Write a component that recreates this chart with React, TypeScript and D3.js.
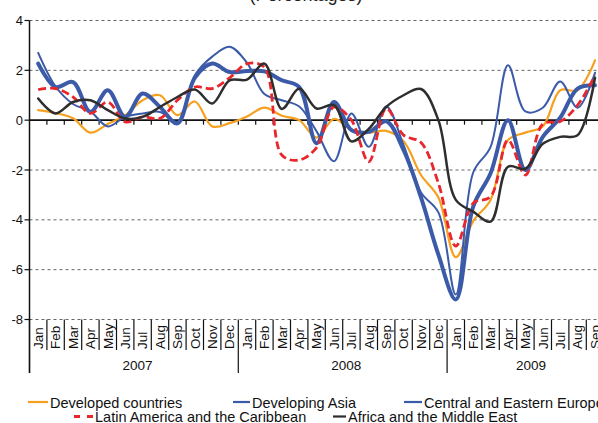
import * as d3 from 'd3'

const WIDTH = 598
const HEIGHT = 423
const LEFT = 29.5
const MONTH_W = 17.4
const TOP_Y = 20.5
const BOTTOM_Y = 319.5

const monthNames = ['Jan', 'Feb', 'Mar', 'Apr', 'May', 'Jun', 'Jul', 'Aug', 'Sep', 'Oct', 'Nov', 'Dec']
const years = ['2007', '2008', '2009']
const monthsPerYear = [12, 12, 9]
const yTicks = [4, 2, 0, -2, -4, -6, -8]

// one value per month, Jan 2007 .. Sep 2009
const developed = [
  0.4, 0.28, 0.08, -0.5, -0.15, 0.2, 0.8, 1.0, 0.2, 0.75, -0.25, -0.12,
  0.15, 0.5, 0.18, 0.0, -0.7, 0.05, -0.38, -0.5, -0.43, -0.85, -2.2, -3.1,
  -5.5, -4.05, -3.2, -0.8, -0.5, -0.25, 1.2, 1.2, 2.4,
]
const developingAsia = [
  2.27, 1.33, 1.53, 0.33, 1.2, 0.13, 1.07, 0.53, -0.13, 1.7, 2.27, 1.93,
  1.97, 1.96, 1.6, 1.33, -0.93, 0.73, -0.4, -0.47, -0.05, -1.2, -3.1, -5.4,
  -7.2, -3.47, -2.13, 0.0, -2.0, -0.67, 0.1, 1.27, 1.4,
]
const centralEurope = [
  2.7, 1.35, 0.65, 0.35, -0.25, 0.13, 0.27, 0.33, -0.07, 1.8, 2.55, 2.95,
  2.3, 1.05, 0.8, 0.55, -0.45, -1.65, 0.27, -1.07, 0.55, -1.0, -2.9, -3.7,
  -7.0, -2.1, -1.07, 2.2, 0.35, 0.5, 1.55, 0.5, 1.9,
]
const latinAmerica = [
  1.23, 1.27, 0.93, 0.27, 0.73, -0.07, 0.13, 0.07, 0.8, 1.33, 1.27, 1.7,
  2.27, 2.13, -1.4, -1.6, -1.1, 0.53, 0.0, -1.67, 0.47, -0.6, -0.9, -2.53,
  -5.05, -3.33, -3.07, -0.8, -2.2, -0.15, -0.05, 0.6, 1.8,
]
const africaMiddleEast = [
  0.87, 0.27, 0.73, 0.8, 0.4, 0.07, 0.13, 0.53, 0.93, 1.23, 0.67, 1.6,
  1.63, 2.27, 0.45, 1.27, 0.47, 0.6, -0.85, -0.35, 0.53, 1.0, 1.25, 0.0,
  -3.2, -3.67, -4.07, -1.87, -1.95, -0.95, -0.67, -0.6, 1.7,
]

const seriesNames = [
  'Developed countries',
  'Developing Asia',
  'Central and Eastern Europe',
  'Latin America and the Caribbean',
  'Africa and the Middle East',
]

const ORANGE = '#f7a01e'
const BLUE = '#3b5ba9'
const RED = '#e8262c'
const BLACK = '#2e2e2e'
const FONT = 'Liberation Sans, Arial, Helvetica, sans-serif'

const series = [
  { name: seriesNames[0], values: developed, color: ORANGE, width: 2.2, dash: null },
  { name: seriesNames[1], values: developingAsia, color: BLUE, width: 4, dash: null },
  { name: seriesNames[2], values: centralEurope, color: BLUE, width: 2, dash: null },
  { name: seriesNames[3], values: latinAmerica, color: RED, width: 2.8, dash: '8,4' },
  { name: seriesNames[4], values: africaMiddleEast, color: BLACK, width: 2.5, dash: null },
]

const months: string[] = []
years.forEach((yr, i) => {
  for (let m = 0; m < monthsPerYear[i]; m++) months.push(`${monthNames[m]} ${yr}`)
})

const x = d3.scaleBand<string>()
  .domain(months)
  .range([LEFT, LEFT + months.length * MONTH_W])
  .padding(0)

const y = d3.scaleLinear().domain([-8, 4]).range([BOTTOM_Y, TOP_Y])

const line = d3.line<number>()
  .x((_, i) => (x(months[i]) as number) + x.bandwidth() / 2)
  .y(d => y(d))
  .curve(d3.curveCatmullRom)

const legendItems = [
  { s: 0, x1: 28, x2: 48, ly: 402, tx: 50, ty: 408 },
  { s: 1, x1: 233, x2: 250, ly: 402, tx: 252, ty: 408 },
  { s: 2, x1: 404, x2: 422, ly: 402, tx: 424, ty: 408 },
  { s: 3, x1: 74, x2: 93, ly: 416.5, tx: 95, ty: 422 },
  { s: 4, x1: 333, x2: 346, ly: 416.5, tx: 348, ty: 422 },
]

export default function App() {
  const y0 = y(0)
  const rightEdge = LEFT + months.length * MONTH_W
  const boundaries = months.map(m => x(m) as number)
  let yearStart = 0

  return (
    <svg width={WIDTH} height={HEIGHT}
      style={{ position: 'absolute', left: 0, top: 0, display: 'block', background: '#fff' }}
      fontFamily={FONT}>
      <text x={306} y={0.5} fontSize={18} textAnchor="middle" fill="#222">(Percentages)</text>

      {/* grid */}
      {yTicks.filter(t => t !== 0).map(t => (
        <line key={t} x1={LEFT} x2={rightEdge} y1={y(t)} y2={y(t)}
          stroke="#666" strokeWidth={1} strokeDasharray="3,3" />
      ))}

      {/* y axis */}
      <line x1={LEFT} x2={LEFT} y1={TOP_Y} y2={373} stroke="#111" strokeWidth={1.5} />
      {yTicks.map(t => (
        <g key={t}>
          <line x1={LEFT - 5} x2={LEFT} y1={y(t)} y2={y(t)} stroke="#111" strokeWidth={1.2} />
          <text x={23} y={y(t)} dy="0.35em" textAnchor="end" fontSize={13} fill="#111">{t}</text>
        </g>
      ))}

      {/* zero line with month ticks */}
      <line x1={LEFT} x2={rightEdge} y1={y0} y2={y0} stroke="#111" strokeWidth={1.6} />
      {boundaries.slice(1).map((bx, i) => (
        <line key={i} x1={bx} x2={bx} y1={y0} y2={y0 + 4.5} stroke="#111" strokeWidth={1.2} />
      ))}

      {/* category axis */}
      {boundaries.map((bx, i) => (
        <line key={i} x1={bx} x2={bx} y1={BOTTOM_Y} y2={i % 12 === 0 ? 373 : 350}
          stroke="#111" strokeWidth={1.2} />
      ))}
      {months.map(m => {
        const cx = (x(m) as number) + x.bandwidth() / 2
        return (
          <text key={m} transform={`translate(${cx},349) rotate(-90)`} dy="0.36em"
            fontSize={13.5} fill="#111">{m.split(' ')[0]}</text>
        )
      })}
      {years.map((yr, i) => {
        const start = LEFT + yearStart * MONTH_W
        const end = start + monthsPerYear[i] * MONTH_W
        yearStart += monthsPerYear[i]
        const cx = i === 2 ? start + 12 * MONTH_W * 0.4 + 0.5 : (start + end) / 2 + 3.5
        return (
          <text key={yr} x={cx} y={370} textAnchor="middle" fontSize={13.5} fill="#111">{yr}</text>
        )
      })}

      {/* series */}
      {series.map(s => (
        <path key={s.name} d={line(s.values) as string} fill="none" stroke={s.color}
          strokeWidth={s.width} strokeDasharray={s.dash ?? undefined}
          strokeLinejoin="round" strokeLinecap={s.dash ? 'butt' : 'round'} />
      ))}

      {/* legend */}
      {legendItems.map(li => {
        const s = series[li.s]
        return (
          <g key={s.name}>
            <line x1={li.x1} x2={li.x2} y1={li.ly} y2={li.ly} stroke={s.color}
              strokeWidth={s.dash ? 2.8 : 2.2} strokeDasharray={s.dash ? '6,7' : undefined} />
            <text x={li.tx} y={li.ty} fontSize={14.5} fill="#111">{s.name}</text>
          </g>
        )
      })}
    </svg>
  )
}
